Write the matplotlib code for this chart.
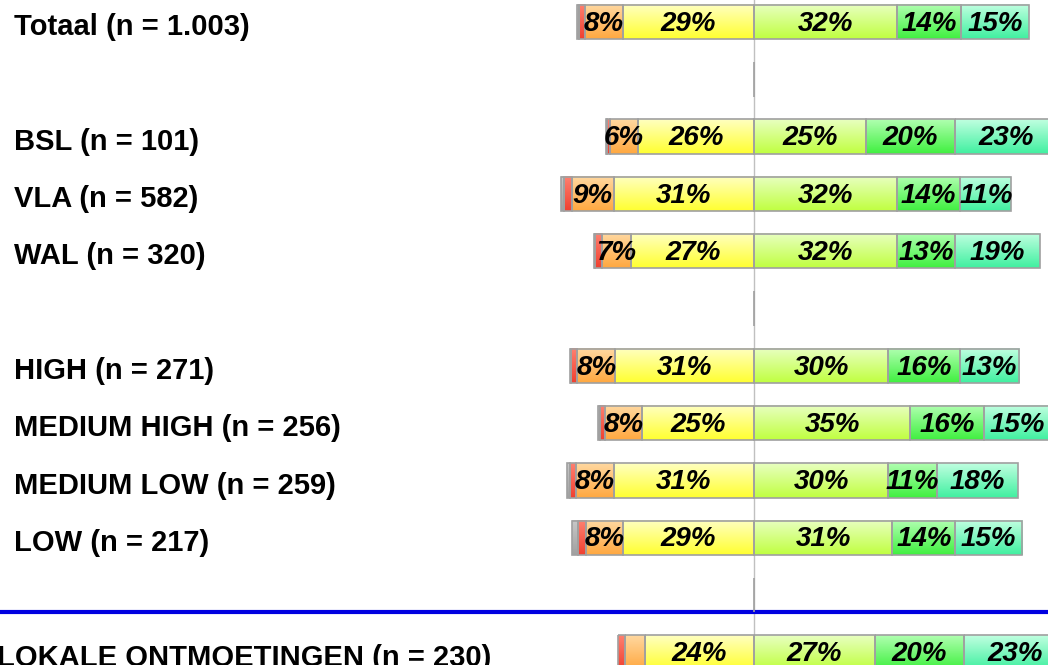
import numpy as np
import matplotlib.pyplot as plt
from matplotlib.colors import LinearSegmentedColormap

plt.rcParams['font.family'] = ['Liberation Sans', 'DejaVu Sans']

# rows top to bottom; empty string = spacer row
labels = ['Totaal (n = 1.003)', '', 'BSL (n = 101)', 'VLA (n = 582)', 'WAL (n = 320)', '',
          'HIGH (n = 271)', 'MEDIUM HIGH (n = 256)', 'MEDIUM LOW (n = 259)', 'LOW (n = 217)', '',
          'LOKALE ONTMOETINGEN (n = 230)']

# negative side (drawn from centre outwards: yellow, orange, red, grey)
grey   = [0.6, 0, 0.2, 0.7, 0.3, 0, 0.3, 0.3, 0.7, 1.3, 0, 0.0]
red    = [1.3, 0, 0.7, 1.7, 1.4, 0, 1.4, 1.1, 1.3, 1.8, 0, 1.5]
orange = [8.4, 0, 6.2, 9.4, 6.7, 0, 8.4, 8.4, 8.4, 8.2, 0, 4.5]
yellow = [29.4, 0, 26.0, 31.4, 27.4, 0, 31.1, 25.0, 31.4, 29.4, 0, 24.4]
# positive side
lgreen = [32, 0, 25, 32, 32, 0, 30, 35, 30, 31, 0, 27]
green  = [14.3, 0, 20, 14.2, 13, 0, 16, 16.4, 11, 14, 0, 20]
teal   = [15.2, 0, 23, 11.4, 19, 0, 13.4, 15, 18.1, 15, 0, 23]

# (top colour, bottom colour) gradients per segment
grads = {
    'grey':   ('#c8c8c8', '#a0a0a0'),
    'red':    ('#ff8070', '#f04030'),
    'orange': ('#ffd8a0', '#ffa840'),
    'yellow': ('#ffffc0', '#ffff30'),
    'lgreen': ('#e8ffc0', '#c0ff40'),
    'green':  ('#b0ffb0', '#40f040'),
    'teal':   ('#c0ffe0', '#40f0a0'),
}

fig = plt.figure(figsize=(10.48, 6.65), dpi=100)
ax = fig.add_axes([0, 0, 1, 1])
ax.axis('off')

ax.axvline(0, color='#c0c0c0', lw=1, zorder=0)
ax.axhline(10.3, color='#0000e0', lw=3, zorder=1)

h = 0.6
grad = np.linspace(0, 1, 64).reshape(-1, 1)


def seg(left, width, y, name, label):
    if width > 0:
        cmap = LinearSegmentedColormap.from_list(name, grads[name])
        ax.imshow(grad, cmap=cmap, aspect='auto', interpolation='bilinear',
                  extent=(left, left + width, y + h / 2, y - h / 2), zorder=2)
    ax.add_patch(plt.Rectangle((left, y - h / 2), width, h, fill=False,
                               edgecolor='#a0a0a0', lw=1.2, zorder=3))
    if label and width >= 5:
        ax.text(left + width / 2, y + 0.03, '%d%%' % round(width), ha='center', va='center',
                fontsize=20, fontweight='bold', fontstyle='italic', zorder=4)


for i, lab in enumerate(labels):
    x = 0
    for name, vals in [('yellow', yellow), ('orange', orange), ('red', red), ('grey', grey)]:
        v = vals[i]
        if v > 0:
            seg(x - v, v, i, name, name in ('yellow', 'orange'))
        x -= v
    x = 0
    for name, vals in [('lgreen', lgreen), ('green', green), ('teal', teal)]:
        v = vals[i]
        if v > 0:
            seg(x, v, i, name, True)
        x += v
    if lab == '':
        seg(0, 0, i, 'grey', False)
    else:
        lx = -3 / 1048 if i == 11 else 14 / 1048
        ax.text(lx, i + 0.09, lab, transform=ax.get_yaxis_transform(), ha='left', va='center',
                fontsize=21, fontweight='bold')

ax.set_xlim(-168.7, 65.8)
ax.set_ylim(11.22, -0.384)
fig.savefig('out.png', dpi=100)
